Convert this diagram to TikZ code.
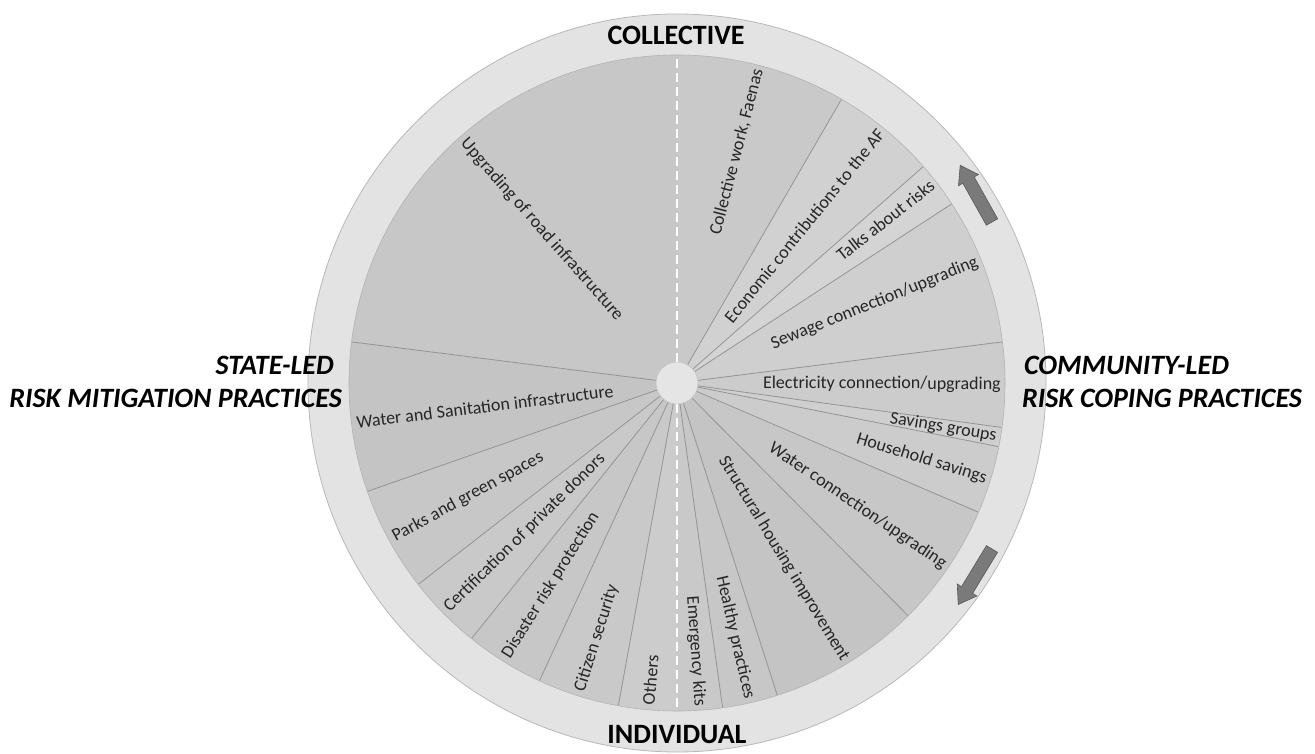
\documentclass[tikz,border=0pt]{standalone}
\usepackage{fontspec}
\setmainfont{Carlito}
\usetikzlibrary{calc}
\begin{document}
\begin{tikzpicture}[x=1pt,y=1pt,
  lbl/.style={inner sep=0pt, font=\fontsize{18}{20}\selectfont, text=black!85},
  head/.style={inner sep=0pt, font=\fontsize{28}{32}\selectfont\bfseries, text=black},
  headit/.style={inner sep=0pt, font=\fontsize{28}{32}\selectfont\bfseries\itshape, text=black},
  sepline/.style={draw=black!42, line width=0.8pt},
  blockarrow/.style={draw=black!65, fill=black!52, line width=0.6pt, line join=miter},
  dashline/.style={draw=white, line width=2.6pt, dash pattern=on 9pt off 5pt}
]
\useasboundingbox (0,0) rectangle (1315,754);
\fill[white] (0,0) rectangle (1315,754);
\coordinate (C) at (677,371);
% outer ring
\node[circle, draw=black!28, fill=black!11, line width=0.8pt, minimum size=738pt, inner sep=0pt] (ring) at (C) {};
% pie sectors
\foreach \a/\b/\g in {90/59.9/21, 59.9/41.3/18, 41.3/33.1/17, 33.1/7.2/19, 7.2/-7.8/20,
  -7.8/-11.2/19, -11.2/-23.2/20, -23.2/-45.2/22, -45.2/-72.2/23, -72.2/-82/22, -82/-90/21,
  -90/-100.3/20, -100.3/-114.8/21, -114.8/-128.8/22, -128.8/-142.1/21, -142.1/-160.7/22,
  -160.7/-187.2/23, 172.8/90/22}
  \fill[black!\g] (C) -- ++(\a:328) arc[start angle=\a, end angle=\b, radius=328] -- cycle;
\node[circle, draw=black!30, line width=0.6pt, minimum size=656pt, inner sep=0pt] (pie) at (C) {};
% sector dividers
\foreach \a in {59.9, 41.3, 33.1, 7.2, -7.8, -11.2, -23.2, -45.2, -72.2, -82,
  -100.3, -114.8, -128.8, -142.1, -160.7, 172.8}
  \draw[sepline] (C) -- ++(\a:327.5);
% hub
\node[circle, draw=black!22, fill=black!10, line width=0.8pt, minimum size=42pt, inner sep=0pt] (hub) at (C) {};
% dashed axis
\draw[dashline] (hub.north) -- (pie.north);
\draw[dashline] (hub.south) -- (pie.south);
% right-side labels (read outward)
\foreach \a/\t in {75.5/{Collective work, Faenas}, 51/{Economic contributions to the AF},
  38/{Talks about risks}, 22/{Sewage connection/upgrading}, -0.3/{Electricity connection/upgrading},
  -9.5/{Savings groups}, -17.2/{Household savings}, -34.2/{Water connection/upgrading},
  -58.7/{Structural housing improvement}, -77.1/{Healthy practices}, -86/{Emergency kits}}
  \node[lbl, anchor=east, rotate=\a] at ($(C)+(\a:324)$) {\t};
% left-side labels (read inward)
\foreach \a/\t in {264.9/{Others}, 252.5/{Citizen security}, 238/{Disaster risk protection},
  224.5/{Certification of private donors}, 208.6/{Parks and green spaces},
  187/{Water and Sanitation infrastructure}, 131.4/{Upgrading of road infrastructure}}
  \node[lbl, anchor=west, rotate=\a-180] at ($(C)+(\a:323)$) {\t};
% headings
\node[head] (coll) at (676,719) {COLLECTIVE};
\node[head] (indiv) at (677,19) {INDIVIDUAL};
\node[headit, anchor=east] (state1) at (334,389) {STATE-LED};
\node[headit, anchor=east] (state2) at (342,356) {RISK MITIGATION PRACTICES};
\node[headit, anchor=west] (comm1) at (1024,389) {COMMUNITY-LED};
\node[headit, anchor=west] (comm2) at (1022,356) {RISK COPING PRACTICES};
% block arrows in the ring
\begin{scope}[shift={(992,532)}, rotate=119.3]
  \draw[blockarrow] (0,-6.5) -- (48,-6.5) -- (48,-11.5) -- (65,0) -- (48,11.5) -- (48,6.5) -- (0,6.5) -- cycle;
\end{scope}
\begin{scope}[shift={(992,205)}, rotate=-121.3]
  \draw[blockarrow] (0,-6.5) -- (48,-6.5) -- (48,-11.5) -- (65,0) -- (48,11.5) -- (48,6.5) -- (0,6.5) -- cycle;
\end{scope}
\end{tikzpicture}
\end{document}
